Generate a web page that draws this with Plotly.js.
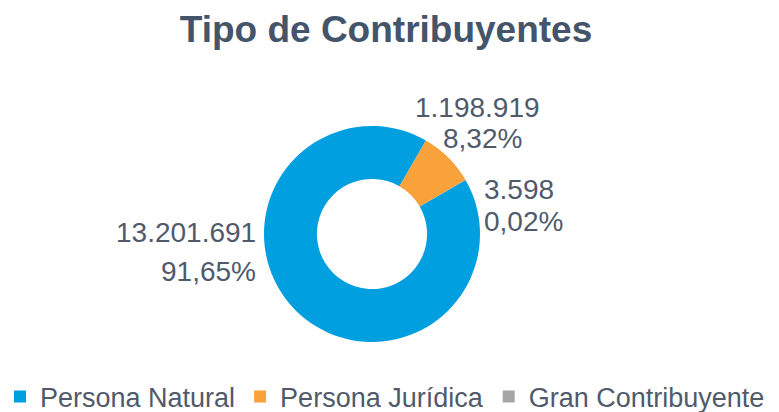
<!DOCTYPE html>
<html>
<head>
<meta charset="utf-8">
<script src="https://cdn.plot.ly/plotly-3.0.1.min.js"></script>
<style>html,body{margin:0;padding:0;background:#fff;}#chart{width:779px;height:412px;}</style>
</head>
<body>
<div id="chart"></div>
<script>
const categories = ["Persona Natural", "Persona Jurídica", "Gran Contribuyente"];
const values = [13201691, 1198919, 3598];
const colors = ["#009FDF", "#F9A13A", "#A5A5A5"];
const chartTitle = "Tipo de Contribuyentes";

const total = values.reduce((a, b) => a + b, 0);
function fmtInt(v) {
  return String(v).replace(/\B(?=(\d{3})+(?!\d))/g, ".");
}
function fmtPct(v) {
  return (v / total * 100).toFixed(2).replace(".", ",") + "%";
}
const valueText = values.map(fmtInt);
const pctText = values.map(fmtPct);

const W = 779, H = 412;
const px = x => x / W;
const py = y => 1 - y / H;

const labelFont = {family: "Liberation Sans, Arial, sans-serif", size: 28, color: "#505a6b"};
// label placement (pixel anchors) for value line and percent line of each slice
const labelPos = [
  {v: {x: 257, y: 232, xa: "right"}, p: {x: 257, y: 271, xa: "right"}},
  {v: {x: 477.5, y: 107, xa: "center"}, p: {x: 482.5, y: 139, xa: "center"}},
  {v: {x: 483, y: 189, xa: "left"}, p: {x: 483, y: 221, xa: "left"}}
];
const annotations = [];
labelPos.forEach((lp, i) => {
  [[lp.v, valueText[i]], [lp.p, pctText[i]]].forEach(([pos, txt]) => {
    annotations.push({
      xref: "paper", yref: "paper", showarrow: false, font: labelFont, borderpad: 0,
      x: px(pos.x), y: py(pos.y), xanchor: pos.xa, yanchor: "middle", text: txt
    });
  });
});

const cx = 372, cy = 234, r = 108;
const data = [{
  type: "pie",
  labels: categories,
  values: values,
  marker: {colors: colors, line: {width: 0}},
  hole: 0.51,
  sort: false,
  direction: "clockwise",
  rotation: 60,
  textinfo: "none",
  hoverinfo: "label+value+percent",
  domain: {x: [px(cx - r), px(cx + r)], y: [py(cy + r), py(cy - r)]}
}];

const layout = {
  width: W, height: H,
  margin: {l: 0, r: 0, t: 0, b: 0, autoexpand: false},
  paper_bgcolor: "#ffffff",
  font: {family: "Liberation Sans, Arial, sans-serif", color: "#505a6b"},
  title: {
    text: "<b>" + chartTitle + "</b>",
    x: px(386), xanchor: "center", xref: "paper",
    y: py(29), yanchor: "middle", yref: "container",
    font: {family: "Liberation Sans, Arial, sans-serif", size: 37, color: "#44546A"}
  },
  showlegend: true,
  legend: {
    orientation: "h",
    x: 0, xanchor: "left",
    y: py(397), yanchor: "middle",
    font: {family: "Liberation Sans, Arial, sans-serif", size: 27, color: "#505a6b"},
    bgcolor: "rgba(0,0,0,0)", borderwidth: 0
  },
  annotations: annotations
};

Plotly.newPlot("chart", data, layout, {displayModeBar: false, staticPlot: true});
</script>
</body>
</html>
